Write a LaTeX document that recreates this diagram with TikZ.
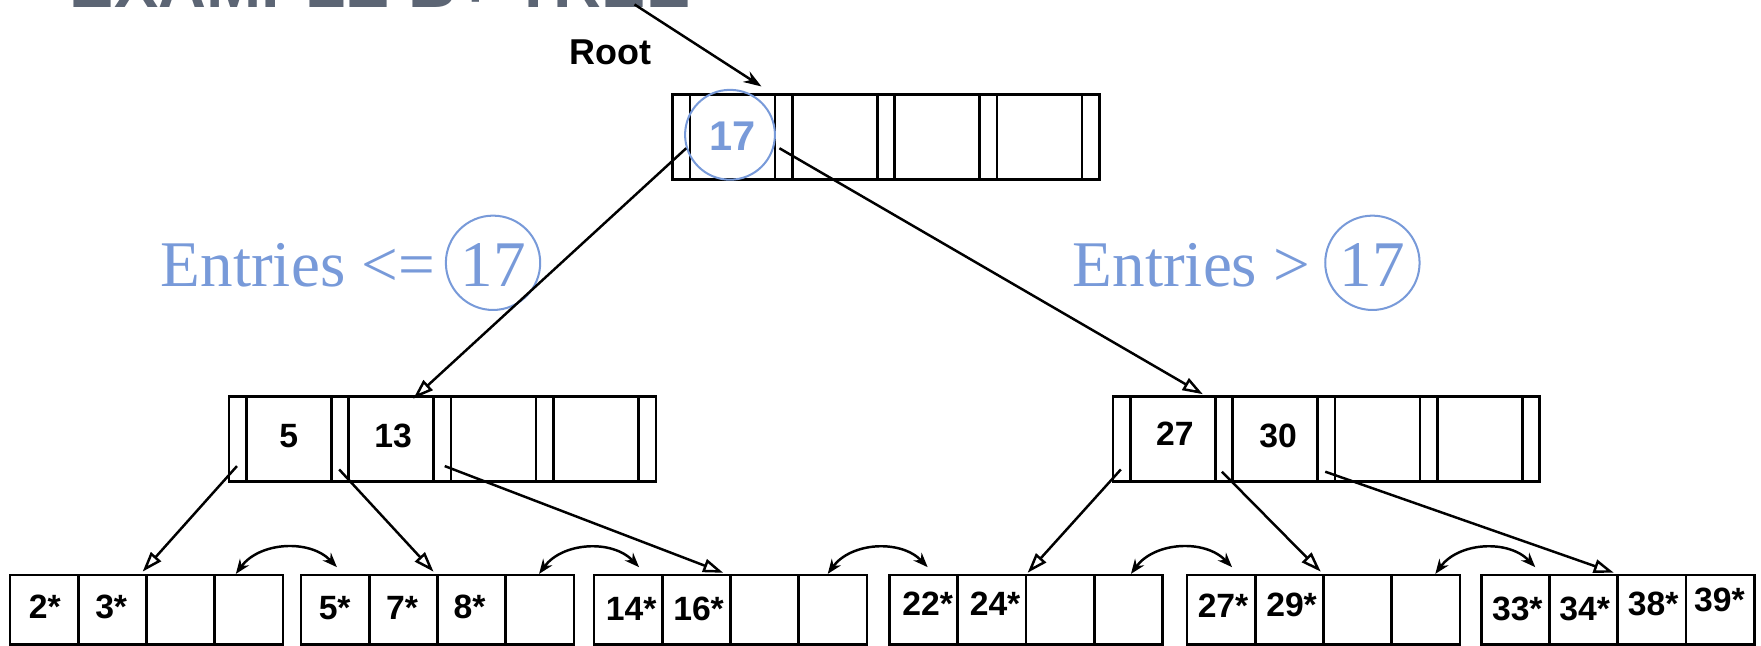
\documentclass[tikz,border=0pt]{standalone}
\usepackage{fontspec}
\setmainfont{Liberation Sans}
\newfontfamily\serifb{Liberation Serif}
\usetikzlibrary{arrows.meta,calc}
\definecolor{lblue}{RGB}{120,154,217}
\definecolor{ttlgray}{RGB}{92,101,116}
\begin{document}
\begin{tikzpicture}[x=1pt,y=1pt,
  inner/.style={draw=black,line width=2.4pt,minimum width=380pt,minimum height=76pt,anchor=north west,inner sep=0pt,outer sep=0pt},
  leafbox/.style={draw=black,line width=2.4pt,minimum width=243pt,minimum height=62pt,anchor=north west,inner sep=0pt,outer sep=0pt},
  keytxt/.style={font=\bfseries\fontsize{30}{30}\selectfont,inner sep=0pt},
  bluetxt/.style={text=lblue,font=\serifb\fontsize{58}{58}\selectfont,inner sep=0pt},
  ring/.style={circle,draw=lblue,line width=1.8pt,inner sep=0pt},
  ptr/.style={line width=2.2pt,-{Triangle[open,length=18pt,width=12pt]}},
  rootptr/.style={line width=2.2pt,-{Stealth[length=16pt,width=11pt]}},
  sib/.style={line width=2.2pt,{Stealth[length=13pt,width=10pt]}-{Stealth[length=13pt,width=10pt]}}
]
\useasboundingbox (0,0) rectangle (1568,-575);

% title (cut off at the top, as in the reference)
\node[anchor=base west,inner sep=0pt,text=ttlgray,font=\bfseries\fontsize{59}{59}\selectfont] (title) at (62,-7) {EXAMPLE B+ TREE};

% Root label and arrow source
\node[anchor=base west,inner sep=0pt,font=\bfseries\fontsize{32}{32}\selectfont] (rootlbl) at (507,-57) {Root};
\coordinate (rootsrc) at (565,-4);

% inner nodes
\node[inner] (root) at (599,-84) {};
\node[inner] (ml) at (204,-353) {};
\node[inner] (mr) at (991,-353) {};
\foreach \n in {root,ml,mr}{
  \foreach \dx in {15.5,91.1,106.6,182.2,197.7,273.3,288.8,364.4}{
    \draw[line width=2.4pt] ($(\n.north west)+(\dx,0)$) -- ($(\n.south west)+(\dx,0)$);
  }
}

% leaves
\foreach \i/\x in {1/9,2/268,3/529,4/792,5/1057,6/1319}{
  \node[leafbox] (leaf\i) at (\x,-512) {};
  \foreach \dx in {60.75,121.5,182.25}{
    \draw[line width=2.4pt] ($(leaf\i.north west)+(\dx,0)$) -- ($(leaf\i.south west)+(\dx,0)$);
  }
}

% keys
\node[text=lblue,inner sep=0pt,font=\bfseries\fontsize{37}{37}\selectfont] (k17) at (652,-121) {17};
\node[ring,minimum size=80pt] (c17) at (650,-120) {};
\node[keytxt] (k5) at (257,-388) {5};
\node[keytxt] (k13) at (350,-388) {13};
\node[keytxt] (k27) at (1046,-386) {27};
\node[keytxt] (k30) at (1138,-388) {30};

% leaf entries
\node[keytxt] (e2) at (40,-540) {2*};
\node[keytxt] (e3) at (99,-540) {3*};
\node[keytxt] (e5) at (298,-541) {5*};
\node[keytxt] (e7) at (358,-541) {7*};
\node[keytxt] (e8) at (418,-540) {8*};
\node[keytxt] (e14) at (562,-542) {14*};
\node[keytxt] (e16) at (622,-542) {16*};
\node[keytxt] (e22) at (826,-538) {22*};
\node[keytxt] (e24) at (886,-538) {24*};
\node[keytxt] (e27) at (1089,-539) {27*};
\node[keytxt] (e29) at (1150,-539) {29*};
\node[keytxt] (e33) at (1351,-542) {33*};
\node[keytxt] (e34) at (1411,-542) {34*};
\node[keytxt] (e38) at (1472,-538) {38*};
\node[keytxt] (e39) at (1531,-534) {39*};

% range labels
\node[bluetxt,anchor=base west] (ltxt) at (143,-255) {Entries <=};
\node[ring,minimum size=84pt] (lc) at (439,-234) {};
\node[bluetxt] (l17) at (439,-236) {17};
\node[bluetxt,anchor=base west] (rtxt) at (955,-255) {Entries >};
\node[ring,minimum size=84pt] (rc) at (1222,-234) {};
\node[bluetxt] (r17) at (1222,-236) {17};

% root pointer
\draw[rootptr] (rootsrc) -- ($(root.north west)+(79,7)$);

% root to children
\draw[ptr] ($(root.north west)+(12,-48)$) -- ($(ml.north west)+(164,-2)$);
\draw[ptr] ($(root.north west)+(95,-48)$) -- ($(mr.north west)+(80,2)$);

% inner to leaves
\draw[ptr] ($(ml.north west)+(7,-62)$) -- ($(leaf1.north west)+(118,3)$);
\draw[ptr] ($(ml.north west)+(98,-65)$) -- ($(leaf2.north west)+(118,3)$);
\draw[ptr] ($(ml.north west)+(192,-62)$) -- ($(leaf3.north west)+(115,2)$);
\draw[ptr] ($(mr.north west)+(7,-65)$) -- ($(leaf4.north west)+(123,2)$);
\draw[ptr] ($(mr.north west)+(97,-67)$) -- ($(leaf5.north west)+(119,3)$);
\draw[ptr] ($(mr.north west)+(189,-67)$) -- ($(leaf6.north west)+(118,2)$);

% sibling links
\draw[sib] ($(leaf1.north west)+(201,1)$) to[bend left=50] ($(leaf2.north west)+(32,7)$);
\draw[sib] ($(leaf2.north west)+(212,1)$) to[bend left=50] ($(leaf3.north west)+(40,7)$);
\draw[sib] ($(leaf3.north west)+(208,1)$) to[bend left=50] ($(leaf4.north west)+(34,7)$);
\draw[sib] ($(leaf4.north west)+(215,1)$) to[bend left=50] ($(leaf5.north west)+(40,7)$);
\draw[sib] ($(leaf5.north west)+(221,1)$) to[bend left=50] ($(leaf6.north west)+(48,7)$);
\end{tikzpicture}
\end{document}
